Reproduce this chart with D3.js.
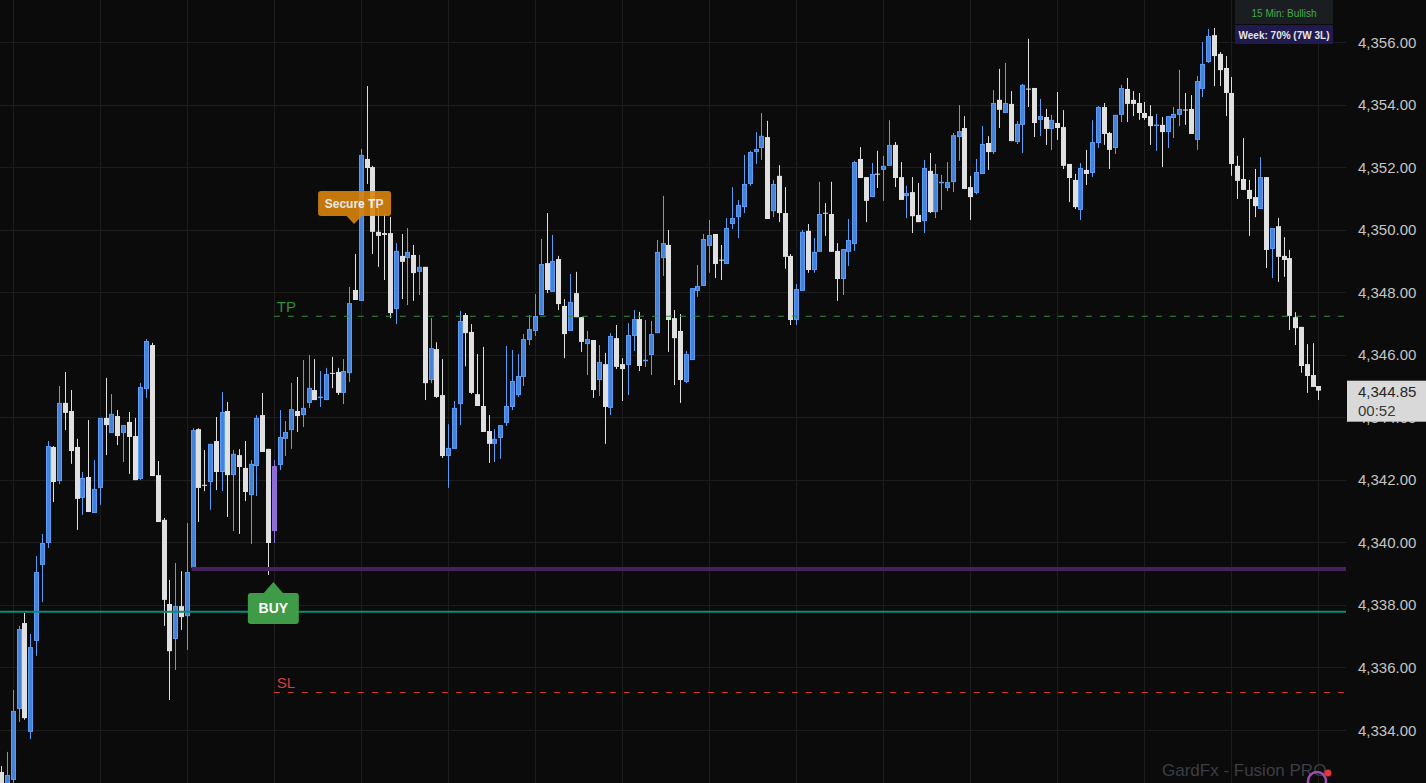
<!DOCTYPE html>
<html><head><meta charset="utf-8">
<script src="https://cdn.jsdelivr.net/npm/d3@7/dist/d3.min.js"></script>
<style>html,body{margin:0;padding:0;background:#0b0b0b;overflow:hidden}svg{display:block}</style>
</head><body><svg id="chart" width="1426" height="783"></svg>
<script>
const opens=[4332.66,4332.02,4332.40,4334.67,4337.42,4333.94,4336.85,4339.28,4339.98,4343.05,4341.96,4344.46,4344.20,4343.05,4341.42,4342.09,4340.94,4341.74,4343.98,4343.50,4344.04,4343.50,4343.85,4343.40,4342.03,4344.90,4346.31,4342.15,4340.72,4338.03,4336.91,4337.96,4337.64,4339.18,4343.62,4341.84,4341.93,4343.24,4342.25,4344.20,4342.15,4342.79,4342.38,4341.51,4342.44,4344.07,4342.99,4340.36,4342.47,4343.31,4343.59,4344.20,4344.07,4344.46,4344.87,4344.64,4344.55,4345.42,4345.45,4344.78,4345.41,4348.07,4347.72,4352.26,4352.00,4349.93,4349.89,4349.89,4347.46,4349.16,4349.09,4349.19,4348.65,4348.81,4345.19,4346.18,4344.71,4342.76,4342.99,4344.42,4347.27,4346.73,4344.74,4344.36,4343.56,4343.15,4343.34,4343.82,4344.33,4344.71,4345.29,4346.47,4346.76,4347.27,4348.93,4348.01,4349.06,4347.56,4346.76,4347.97,4347.20,4346.34,4346.47,4345.19,4345.70,4344.30,4346.53,4345.70,4345.67,4346.60,4347.14,4345.82,4345.99,4346.69,4349.09,4349.51,4347.17,4346.76,4345.13,4345.83,4348.04,4348.20,4349.48,4349.86,4349.04,4348.90,4350.18,4350.40,4350.72,4351.46,4352.48,4352.61,4352.96,4350.59,4351.72,4350.53,4349.16,4347.11,4348.04,4349.96,4348.71,4349.29,4350.54,4350.50,4349.32,4348.42,4349.29,4349.54,4352.26,4351.68,4351.04,4351.79,4351.91,4352.04,4352.71,4351.68,4351.07,4351.20,4350.47,4350.27,4351.88,4350.56,4351.51,4351.33,4351.52,4352.96,4353.25,4351.36,4351.17,4351.78,4352.77,4352.48,4354.15,4353.73,4354.02,4352.80,4353.35,4354.51,4354.53,4353.51,4353.60,4353.22,4353.41,4353.28,4352.10,4351.59,4350.63,4351.91,4351.81,4352.77,4353.92,4353.09,4352.61,4353.67,4354.50,4354.15,4354.05,4353.73,4353.63,4353.34,4353.35,4353.12,4353.57,4353.67,4353.84,4353.86,4352.87,4354.50,4355.36,4356.22,4355.62,4355.17,4354.37,4352.04,4351.62,4351.27,4351.04,4350.66,4351.68,4349.38,4350.11,4349.16,4349.09,4347.20,4346.89,4345.70,4345.35,4345.00];
const highs=[4332.85,4333.30,4335.28,4337.33,4337.74,4337.07,4339.56,4340.27,4343.24,4343.08,4345.00,4345.45,4344.87,4343.31,4342.25,4343.91,4342.63,4343.98,4345.26,4344.74,4344.23,4343.75,4344.17,4343.98,4345.10,4346.50,4346.38,4342.60,4340.78,4338.80,4339.34,4339.08,4340.62,4343.65,4343.65,4342.95,4343.15,4344.01,4344.81,4344.49,4342.95,4342.98,4343.24,4342.63,4344.07,4344.78,4342.99,4342.63,4344.23,4343.88,4345.10,4345.29,4345.83,4345.99,4345.86,4345.48,4345.58,4345.93,4345.58,4345.86,4348.17,4349.22,4352.58,4354.59,4352.04,4350.72,4350.50,4350.41,4349.57,4349.86,4350.05,4349.51,4349.19,4348.81,4347.17,4346.40,4345.86,4343.78,4344.52,4347.40,4347.33,4346.98,4346.02,4346.25,4344.07,4343.62,4343.75,4346.28,4346.15,4346.02,4346.66,4347.27,4347.94,4349.70,4350.53,4349.83,4349.16,4347.78,4348.58,4348.65,4347.20,4346.76,4346.47,4346.31,4346.06,4346.69,4346.95,4345.89,4347.01,4347.43,4347.37,4347.11,4347.08,4349.67,4351.08,4349.99,4347.43,4347.30,4346.12,4348.13,4348.87,4349.86,4350.31,4349.86,4349.51,4350.37,4351.36,4350.95,4352.39,4352.52,4353.12,4353.73,4353.48,4351.59,4352.06,4351.36,4349.22,4348.26,4349.99,4350.18,4349.73,4351.53,4350.85,4351.53,4349.57,4349.38,4350.34,4352.20,4352.64,4351.68,4352.13,4352.52,4352.36,4353.50,4352.80,4352.16,4351.40,4351.68,4351.49,4352.23,4352.45,4352.10,4351.75,4352.16,4353.09,4353.98,4353.63,4351.72,4352.26,4353.31,4352.99,4354.46,4355.14,4355.33,4354.43,4353.47,4354.66,4356.10,4354.53,4354.18,4353.86,4353.67,4354.40,4353.82,4352.10,4351.78,4352.13,4352.55,4353.50,4353.95,4354.05,4353.12,4353.67,4354.63,4354.85,4354.43,4354.37,4354.08,4353.98,4353.70,4353.60,4353.63,4353.92,4355.11,4354.37,4354.30,4354.91,4356.00,4356.42,4356.45,4355.68,4355.55,4354.88,4352.36,4352.93,4351.59,4351.94,4352.32,4351.68,4350.05,4350.37,4349.76,4349.35,4347.36,4346.89,4346.34,4346.37,4345.00];
const lows=[4331.95,4331.89,4332.21,4334.26,4334.33,4333.71,4336.37,4338.09,4339.82,4341.29,4341.86,4343.59,4342.51,4340.40,4340.88,4340.97,4340.94,4341.20,4342.79,4343.50,4343.11,4342.57,4342.19,4341.99,4341.99,4344.62,4342.12,4340.65,4337.33,4334.96,4335.92,4337.20,4336.56,4339.11,4340.65,4341.64,4341.04,4341.67,4341.64,4340.81,4340.36,4340.27,4341.32,4339.95,4341.48,4342.89,4338.96,4339.98,4342.31,4342.76,4342.99,4343.53,4343.69,4344.30,4344.55,4344.33,4344.55,4344.93,4344.71,4344.42,4345.13,4347.75,4347.72,4351.46,4349.22,4348.81,4348.39,4347.17,4346.98,4347.78,4347.59,4347.72,4347.91,4344.55,4345.09,4344.62,4342.70,4341.74,4342.99,4343.75,4345.63,4344.74,4344.36,4343.53,4342.54,4342.57,4342.67,4343.72,4344.23,4344.65,4345.00,4346.31,4346.60,4347.27,4347.97,4348.01,4347.43,4345.89,4346.76,4347.20,4346.09,4345.35,4344.62,4344.68,4343.15,4344.07,4345.54,4344.52,4344.71,4346.12,4345.48,4345.61,4345.35,4346.69,4348.52,4346.09,4345.03,4344.46,4345.09,4345.83,4347.85,4348.20,4348.62,4348.45,4348.39,4348.90,4350.02,4349.73,4350.53,4351.40,4352.10,4352.23,4350.34,4350.40,4350.24,4348.75,4346.95,4346.95,4348.04,4348.62,4348.62,4349.29,4349.80,4349.29,4347.72,4347.91,4348.84,4349.32,4351.65,4350.24,4351.04,4351.33,4350.92,4352.04,4351.36,4350.95,4350.37,4349.89,4350.24,4349.89,4350.53,4350.37,4350.63,4351.23,4351.20,4352.20,4351.30,4350.31,4351.13,4351.78,4351.91,4352.42,4353.25,4353.73,4352.83,4352.74,4352.45,4353.92,4352.96,4352.99,4352.71,4352.55,4352.87,4351.94,4350.88,4350.66,4350.31,4351.43,4351.68,4352.61,4352.71,4351.94,4352.42,4353.44,4353.44,4353.63,4353.51,4353.51,4352.71,4352.52,4352.00,4352.61,4352.93,4353.31,4353.35,4353.06,4352.55,4354.24,4355.33,4354.59,4354.59,4353.63,4351.72,4350.98,4351.27,4349.80,4350.40,4350.66,4348.77,4348.45,4348.33,4348.49,4346.79,4346.31,4345.42,4344.78,4344.97,4344.55];
const closes=[4332.08,4332.56,4334.61,4337.23,4334.38,4336.65,4339.05,4339.98,4343.08,4341.93,4344.46,4344.14,4342.92,4341.39,4342.06,4340.97,4341.71,4343.98,4343.75,4344.11,4343.40,4343.75,4343.37,4341.99,4344.97,4346.44,4342.12,4340.65,4338.16,4336.52,4337.96,4337.61,4339.05,4343.59,4341.74,4341.82,4343.15,4342.25,4344.17,4342.15,4342.83,4342.41,4341.61,4342.51,4343.98,4342.89,4339.98,4342.44,4343.37,4343.53,4344.26,4344.04,4344.30,4344.94,4344.55,4344.66,4345.38,4345.40,4344.78,4345.48,4347.65,4347.75,4352.39,4351.97,4349.93,4349.80,4349.83,4347.33,4349.32,4348.97,4349.29,4348.61,4348.81,4345.09,4346.21,4344.65,4342.76,4343.02,4344.30,4347.08,4346.69,4344.78,4344.36,4343.53,4343.15,4343.31,4343.75,4344.36,4345.16,4345.32,4346.50,4346.82,4347.24,4348.90,4348.07,4349.00,4347.62,4346.66,4347.69,4347.20,4346.41,4346.50,4344.87,4345.77,4344.33,4346.60,4345.61,4345.54,4346.63,4347.14,4345.64,4345.84,4346.66,4349.29,4349.57,4347.11,4346.53,4345.19,4346.02,4348.13,4348.20,4349.70,4349.83,4348.90,4349.02,4350.05,4350.37,4350.79,4351.46,4352.48,4352.58,4353.00,4350.34,4351.46,4350.53,4349.13,4347.11,4348.10,4349.93,4348.71,4349.29,4350.50,4350.52,4349.29,4348.42,4349.38,4349.67,4352.16,4351.65,4350.92,4351.78,4351.77,4352.04,4352.71,4351.65,4350.95,4351.17,4350.43,4350.24,4351.97,4350.56,4351.78,4351.53,4351.52,4353.02,4353.15,4351.30,4351.04,4351.84,4352.74,4352.48,4354.05,4353.83,4354.05,4352.83,4353.38,4354.63,4354.49,4353.41,4353.63,4353.22,4353.51,4353.25,4352.04,4351.65,4350.72,4351.97,4351.78,4352.80,4353.92,4353.06,4352.55,4353.67,4354.53,4354.02,4354.02,4353.73,4353.57,4353.31,4353.36,4353.12,4353.63,4353.70,4353.86,4353.82,4353.06,4354.75,4355.30,4356.19,4355.55,4355.10,4354.37,4352.10,4351.56,4351.27,4350.98,4350.75,4351.68,4349.35,4350.05,4349.13,4349.03,4347.24,4346.85,4345.64,4345.32,4344.97,4344.85];
const priceTicks=[4334,4336,4338,4340,4342,4344,4346,4348,4350,4352,4354,4356];
const signalIndex=47;
const purpleLevel=4339.15, purpleFrom=33;
const tealLevel=4337.78;
const tpLevel=4347.23, slLevel=4335.20, levelFrom=47;
const secureIndex=61, securePrice=4350.18;
const buyIndex=47, buyPrice=4338.73;
const lastPrice="4,344.85", countdown="00:52";
const statusText="15 Min: Bullish", weekText="Week: 70% (7W 3L)";
const watermark="GardFx - Fusion PRO";

const svg=d3.select("#chart");
const W=1426,H=783,plotRight=1346;
const n=opens.length;
const x=d3.scaleLinear().domain([0,227]).range([1.1,1318.4]);
const y=d3.scaleLinear().domain([4334,4356]).range([730,42]);
const fmt=d3.format(",.2f");

svg.append("rect").attr("width",W).attr("height",H).attr("fill","#0b0b0b");

// grid
const g=svg.append("g");
g.selectAll("line.h").data(priceTicks).join("line")
 .attr("x1",0).attr("x2",plotRight).attr("y1",d=>Math.round(y(d))+0.5).attr("y2",d=>Math.round(y(d))+0.5)
 .attr("stroke","#1d1d1d").attr("stroke-width",1);
g.selectAll("line.v").data(d3.range(2,n,15)).join("line")
 .attr("x1",d=>Math.round(x(d))+0.5).attr("x2",d=>Math.round(x(d))+0.5).attr("y1",0).attr("y2",H)
 .attr("stroke","#1d1d1d").attr("stroke-width",1);

// candles
const data=d3.range(n).map(i=>({i,o:opens[i],h:highs[i],l:lows[i],c:closes[i]}));
const cg=svg.append("g");
data.forEach(d=>{
  const up=d.c>=d.o;
  const sig=d.i===signalIndex;
  const cx=Math.round(x(d.i));
  const col=sig?"#8f6fd8":(up?"#5b9cf5":"#dedede");
  const fill=sig?"#8c6cd4":(up?"#4683d8":"#e0e0e0");
  cg.append("line").attr("x1",cx+0.5).attr("x2",cx+0.5).attr("y1",y(d.h)).attr("y2",y(d.l))
    .attr("stroke",col).attr("stroke-width",1);
  const top=y(Math.max(d.o,d.c)), bot=y(Math.min(d.o,d.c));
  const hgt=Math.max(1,bot-top);
  if(up||sig){
    cg.append("rect").attr("x",cx-1.5).attr("y",top+0.5).attr("width",4).attr("height",Math.max(0.5,hgt-1))
      .attr("fill",fill).attr("stroke",col).attr("stroke-width",1);
  } else {
    cg.append("rect").attr("x",cx-2).attr("y",top).attr("width",5).attr("height",hgt).attr("fill",fill);
  }
});

// levels
svg.append("line").attr("x1",0).attr("x2",plotRight).attr("y1",y(tealLevel)).attr("y2",y(tealLevel))
  .attr("stroke","#0d8a7a").attr("stroke-width",2);
svg.append("line").attr("x1",x(purpleFrom)-1).attr("x2",plotRight).attr("y1",y(purpleLevel)).attr("y2",y(purpleLevel))
  .attr("stroke","#46205a").attr("stroke-width",4);
svg.append("line").attr("x1",x(levelFrom)).attr("x2",plotRight).attr("y1",y(tpLevel)).attr("y2",y(tpLevel))
  .attr("stroke","#2f8f3a").attr("stroke-width",1).attr("stroke-dasharray","6,8");
svg.append("line").attr("x1",x(levelFrom)).attr("x2",plotRight).attr("y1",y(slLevel)).attr("y2",y(slLevel))
  .attr("stroke","#d23a3a").attr("stroke-width",1).attr("stroke-dasharray","6,8");
svg.append("text").attr("x",x(levelFrom)+3).attr("y",y(tpLevel)-4).text("TP")
  .attr("fill","#2f8f3a").attr("font-family","Liberation Sans, Arial, sans-serif").attr("font-size",15);
svg.append("text").attr("x",x(levelFrom)+3).attr("y",y(slLevel)-4).text("SL")
  .attr("fill","#d83c3c").attr("font-family","Liberation Sans, Arial, sans-serif").attr("font-size",15);

// Secure TP label
{
  const ax=x(secureIndex)-1, ay=y(securePrice);
  const lg=svg.append("g").attr("opacity",0.9);
  lg.append("rect").attr("x",ax-36).attr("y",ay-33).attr("width",73).attr("height",25).attr("rx",3).attr("fill","#d9840b");
  lg.append("path").attr("d",`M${ax-8},${ay-8.5}L${ax+8},${ay-8.5}L${ax},${ay}Z`).attr("fill","#d9840b");
  lg.append("text").attr("x",ax).attr("y",ay-20.5).attr("text-anchor","middle").attr("dominant-baseline","central")
    .attr("fill","#ffffff").attr("font-family","Liberation Sans, Arial, sans-serif").attr("font-size",12).attr("font-weight",600).text("Secure TP");
}
// BUY label
{
  const ax=x(buyIndex)-0.5, ay=y(buyPrice);
  const lg=svg.append("g");
  lg.append("path").attr("d",`M${ax-10},${ay+11.5}L${ax+10},${ay+11.5}L${ax},${ay}Z`).attr("fill","#3f9b47");
  lg.append("rect").attr("x",ax-25.5).attr("y",ay+11).attr("width",51).attr("height",31).attr("rx",3).attr("fill","#3f9b47");
  lg.append("text").attr("x",ax).attr("y",ay+26).attr("text-anchor","middle").attr("dominant-baseline","central")
    .attr("fill","#ffffff").attr("font-family","Liberation Sans, Arial, sans-serif").attr("font-size",14).attr("font-weight","bold").text("BUY");
}

// price axis labels
svg.selectAll("text.p").data(priceTicks).join("text")
  .attr("x",1358).attr("y",d=>y(d)).attr("dominant-baseline","central")
  .attr("fill","#c4c4c4").attr("font-family","Liberation Sans, Arial, sans-serif").attr("font-size",15)
  .text(d=>fmt(d));

// current price tag
{
  const ty=y(+lastPrice.replace(",",""));
  svg.append("rect").attr("x",1347).attr("y",ty-10).attr("width",79).attr("height",41).attr("fill","#d9d9d9");
  svg.append("text").attr("x",1358).attr("y",ty+1).attr("dominant-baseline","central").attr("fill","#262626")
    .attr("font-family","Liberation Sans, Arial, sans-serif").attr("font-size",15).text(lastPrice);
  svg.append("text").attr("x",1358).attr("y",ty+20).attr("dominant-baseline","central").attr("fill","#3a3a3a")
    .attr("font-family","Liberation Sans, Arial, sans-serif").attr("font-size",15).text(countdown);
}

// status panel
svg.append("rect").attr("x",1235).attr("y",0).attr("width",98).attr("height",24).attr("fill","#1b1e21");
svg.append("text").attr("x",1284).attr("y",13).attr("text-anchor","middle").attr("dominant-baseline","central")
  .attr("fill","#43a94b").attr("font-family","Liberation Sans, Arial, sans-serif").attr("font-size",10).text(statusText);
svg.append("rect").attr("x",1235).attr("y",25).attr("width",98).attr("height",19).attr("fill","#201a4e");
svg.append("text").attr("x",1284).attr("y",35).attr("text-anchor","middle").attr("dominant-baseline","central")
  .attr("fill","#e6e6e6").attr("font-family","Liberation Sans, Arial, sans-serif").attr("font-size",10).attr("font-weight","bold").text(weekText);

// watermark
svg.append("text").attr("x",1162).attr("y",776).attr("fill","#3b3e45")
  .attr("font-family","Liberation Sans, Arial, sans-serif").attr("font-size",17).text(watermark);
svg.append("circle").attr("cx",1317).attr("cy",781).attr("r",9).attr("fill","none").attr("stroke","#a24bb0").attr("stroke-width",2.5);
svg.append("circle").attr("cx",1328).attr("cy",773).attr("r",3.5).attr("fill","#e8323c");
</script></body></html>
